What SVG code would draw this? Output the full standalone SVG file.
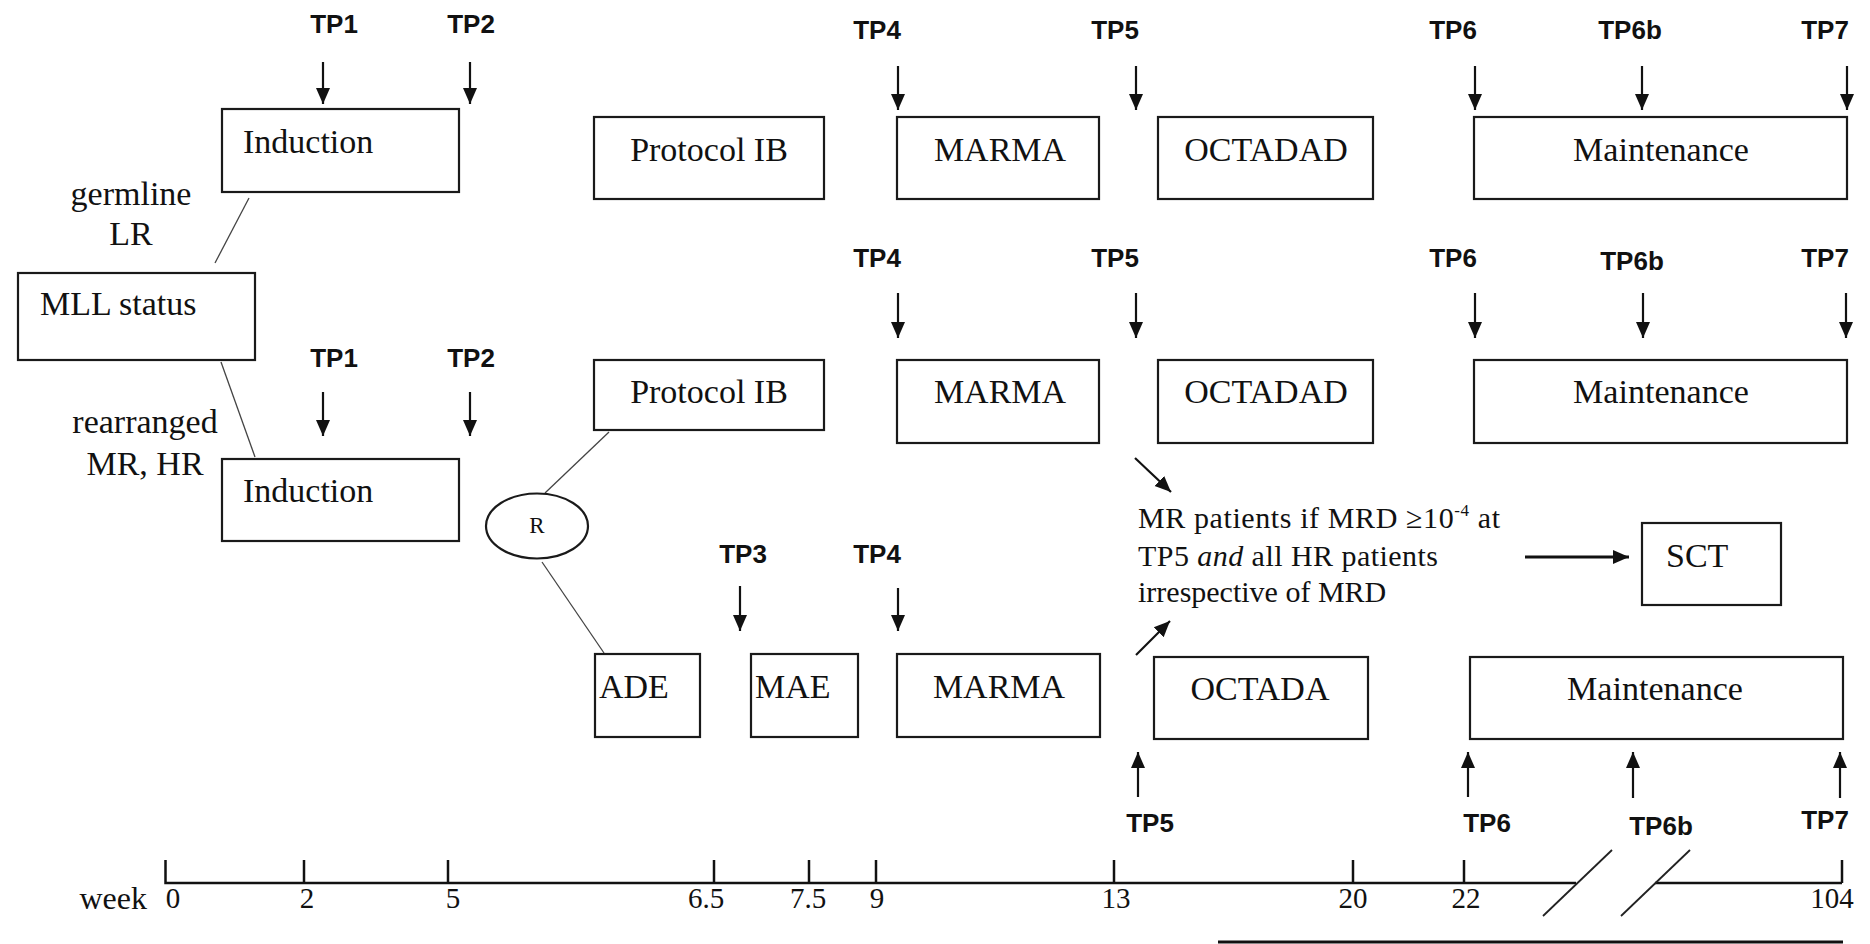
<svg xmlns="http://www.w3.org/2000/svg" width="1870" height="944" viewBox="0 0 1870 944">
<style>
.box{fill:#fff;stroke:#1a1a1a;stroke-width:2.2}
.t{font-family:"Liberation Serif","Times New Roman",serif;font-size:34px;fill:#111}
.tm{text-anchor:middle}
.tp{font-family:"Liberation Sans",Arial,sans-serif;font-size:26px;font-weight:bold;fill:#111;text-anchor:middle}
.ax{font-family:"Liberation Serif","Times New Roman",serif;font-size:29px;fill:#111;text-anchor:middle}
.arr{stroke:#111;stroke-width:2.2;fill:none;marker-end:url(#ah)}
.thin{stroke:#444;stroke-width:1.3;fill:none}
.axis{stroke:#111;stroke-width:2.5;fill:none}
</style>
<defs>
<marker id="ah" viewBox="0 0 16 16" refX="16" refY="8" markerWidth="16" markerHeight="16" markerUnits="userSpaceOnUse" orient="auto">
<path d="M0,1 L16,8 L0,15 z" fill="#111"/>
</marker>
</defs>
<rect width="1870" height="944" fill="#fff"/>

<g id="connectors">
<line class="thin" x1="249" y1="198" x2="215" y2="263"/>
<line class="thin" x1="221" y1="362" x2="255" y2="457"/>
<line class="thin" x1="545" y1="493" x2="609" y2="432"/>
<line class="thin" x1="542" y1="562" x2="604" y2="653"/>
<line class="arr" x1="1135" y1="458" x2="1171" y2="492"/>
<line class="arr" x1="1136" y1="655" x2="1170" y2="621"/>
<line class="arr" x1="1525" y1="557" x2="1629" y2="557" style="stroke-width:3"/>
<!-- row 1 timepoint arrows -->
<line class="arr" x1="323" y1="62" x2="323" y2="104"/>
<line class="arr" x1="470" y1="62" x2="470" y2="104"/>
<line class="arr" x1="898" y1="66" x2="898" y2="110"/>
<line class="arr" x1="1136" y1="66" x2="1136" y2="110"/>
<line class="arr" x1="1475" y1="66" x2="1475" y2="110"/>
<line class="arr" x1="1642" y1="66" x2="1642" y2="110"/>
<line class="arr" x1="1847" y1="66" x2="1847" y2="110"/>
<!-- row 2 -->
<line class="arr" x1="323" y1="392" x2="323" y2="436"/>
<line class="arr" x1="470" y1="392" x2="470" y2="436"/>
<line class="arr" x1="898" y1="293" x2="898" y2="338"/>
<line class="arr" x1="1136" y1="293" x2="1136" y2="338"/>
<line class="arr" x1="1475" y1="293" x2="1475" y2="338"/>
<line class="arr" x1="1643" y1="293" x2="1643" y2="338"/>
<line class="arr" x1="1846" y1="293" x2="1846" y2="338"/>
<!-- row 3 -->
<line class="arr" x1="740" y1="586" x2="740" y2="631"/>
<line class="arr" x1="898" y1="588" x2="898" y2="631"/>
<line class="arr" x1="1138" y1="797" x2="1138" y2="752"/>
<line class="arr" x1="1468" y1="797" x2="1468" y2="752"/>
<line class="arr" x1="1633" y1="798" x2="1633" y2="752"/>
<line class="arr" x1="1840" y1="798" x2="1840" y2="752"/>
</g>

<g id="tp-labels">
<text class="tp" x="334" y="33">TP1</text>
<text class="tp" x="471" y="33">TP2</text>
<text class="tp" x="877" y="39">TP4</text>
<text class="tp" x="1115" y="39">TP5</text>
<text class="tp" x="1453" y="39">TP6</text>
<text class="tp" x="1630" y="39">TP6b</text>
<text class="tp" x="1825" y="39">TP7</text>
<text class="tp" x="877" y="267">TP4</text>
<text class="tp" x="1115" y="267">TP5</text>
<text class="tp" x="1453" y="267">TP6</text>
<text class="tp" x="1632" y="270">TP6b</text>
<text class="tp" x="1825" y="267">TP7</text>
<text class="tp" x="334" y="367">TP1</text>
<text class="tp" x="471" y="367">TP2</text>
<text class="tp" x="743" y="563">TP3</text>
<text class="tp" x="877" y="563">TP4</text>
<text class="tp" x="1150" y="832">TP5</text>
<text class="tp" x="1487" y="832">TP6</text>
<text class="tp" x="1661" y="835">TP6b</text>
<text class="tp" x="1825" y="829">TP7</text>
</g>

<g id="branch-labels">
<text class="t tm" x="131" y="205">germline</text>
<text class="t tm" x="131" y="245">LR</text>
<text class="t tm" x="145" y="433">rearranged</text>
<text class="t tm" x="145" y="475">MR, HR</text>
</g>

<g id="mll"><rect class="box" x="18" y="273" width="237" height="87"/><text class="t" x="40" y="315">MLL status</text></g>
<g id="induction-lr"><rect class="box" x="222" y="109" width="237" height="83"/><text class="t" x="243" y="153">Induction</text></g>
<g id="induction-hr"><rect class="box" x="222" y="459" width="237" height="82"/><text class="t" x="243" y="502">Induction</text></g>
<g id="randomisation"><ellipse cx="537" cy="526" rx="51" ry="32.5" fill="#fff" stroke="#1a1a1a" stroke-width="2.2"/><text class="t tm" x="537" y="533" style="font-size:23px">R</text></g>

<g id="protocolIB-1"><rect class="box" x="594" y="117" width="230" height="82"/><text class="t tm" x="709" y="161">Protocol IB</text></g>
<g id="marma-1"><rect class="box" x="897" y="117" width="202" height="82"/><text class="t tm" x="1000" y="161">MARMA</text></g>
<g id="octadad-1"><rect class="box" x="1158" y="117" width="215" height="82"/><text class="t tm" x="1266" y="161">OCTADAD</text></g>
<g id="maintenance-1"><rect class="box" x="1474" y="117" width="373" height="82"/><text class="t tm" x="1661" y="161" textLength="176" lengthAdjust="spacingAndGlyphs">Maintenance</text></g>

<g id="protocolIB-2"><rect class="box" x="594" y="360" width="230" height="70"/><text class="t tm" x="709" y="403">Protocol IB</text></g>
<g id="marma-2"><rect class="box" x="897" y="360" width="202" height="83"/><text class="t tm" x="1000" y="403">MARMA</text></g>
<g id="octadad-2"><rect class="box" x="1158" y="360" width="215" height="83"/><text class="t tm" x="1266" y="403">OCTADAD</text></g>
<g id="maintenance-2"><rect class="box" x="1474" y="360" width="373" height="83"/><text class="t tm" x="1661" y="403" textLength="176" lengthAdjust="spacingAndGlyphs">Maintenance</text></g>

<g id="ade"><rect class="box" x="595" y="654" width="105" height="83"/><text class="t" x="599" y="698">ADE</text></g>
<g id="mae"><rect class="box" x="751" y="654" width="107" height="83"/><text class="t" x="755" y="698">MAE</text></g>
<g id="marma-3"><rect class="box" x="897" y="654" width="203" height="83"/><text class="t tm" x="999" y="698">MARMA</text></g>
<g id="octada"><rect class="box" x="1154" y="657" width="214" height="82"/><text class="t tm" x="1260" y="700">OCTADA</text></g>
<g id="maintenance-3"><rect class="box" x="1470" y="657" width="373" height="82"/><text class="t tm" x="1655" y="700" textLength="176" lengthAdjust="spacingAndGlyphs">Maintenance</text></g>

<g id="sct-note">
<text class="t" x="1138" y="528" style="font-size:30px" textLength="362" lengthAdjust="spacing">MR patients if MRD ≥10<tspan dy="-12" style="font-size:17px">-4</tspan><tspan dy="12"> at</tspan></text>
<text class="t" x="1138" y="566" style="font-size:30px" textLength="300" lengthAdjust="spacing">TP5 <tspan font-style="italic">and</tspan> all HR patients</text>
<text class="t" x="1138" y="602" style="font-size:30px">irrespective of MRD</text>
</g>
<g id="sct"><rect class="box" x="1642" y="523" width="139" height="82"/><text class="t" x="1666" y="567">SCT</text></g>

<g id="timeline">
<polyline class="axis" points="165.5,860 165.5,883 1576,883"/>
<line class="axis" x1="1655" y1="883" x2="1842" y2="883"/>
<line class="axis" x1="1842" y1="860" x2="1842" y2="883"/>
<line class="axis" x1="304" y1="860" x2="304" y2="883"/>
<line class="axis" x1="448" y1="860" x2="448" y2="883"/>
<line class="axis" x1="714" y1="860" x2="714" y2="883"/>
<line class="axis" x1="809" y1="860" x2="809" y2="883"/>
<line class="axis" x1="876" y1="860" x2="876" y2="883"/>
<line class="axis" x1="1114" y1="860" x2="1114" y2="883"/>
<line class="axis" x1="1353" y1="860" x2="1353" y2="883"/>
<line class="axis" x1="1464" y1="860" x2="1464" y2="883"/>
<line class="thin" x1="1543" y1="916" x2="1612" y2="850" style="stroke:#222;stroke-width:1.8"/>
<line class="thin" x1="1621" y1="916" x2="1690" y2="850" style="stroke:#222;stroke-width:1.8"/>
<text class="t" x="147" y="909" text-anchor="end" style="font-size:32px">week</text>
<text class="ax" x="173" y="908">0</text>
<text class="ax" x="307" y="908">2</text>
<text class="ax" x="453" y="908">5</text>
<text class="ax" x="706" y="908">6.5</text>
<text class="ax" x="808" y="908">7.5</text>
<text class="ax" x="877" y="908">9</text>
<text class="ax" x="1116" y="908">13</text>
<text class="ax" x="1353" y="908">20</text>
<text class="ax" x="1466" y="908">22</text>
<text class="ax" x="1832" y="908">104</text>
<line class="axis" x1="1218" y1="942" x2="1843" y2="942" style="stroke-width:3"/>
</g>
</svg>
